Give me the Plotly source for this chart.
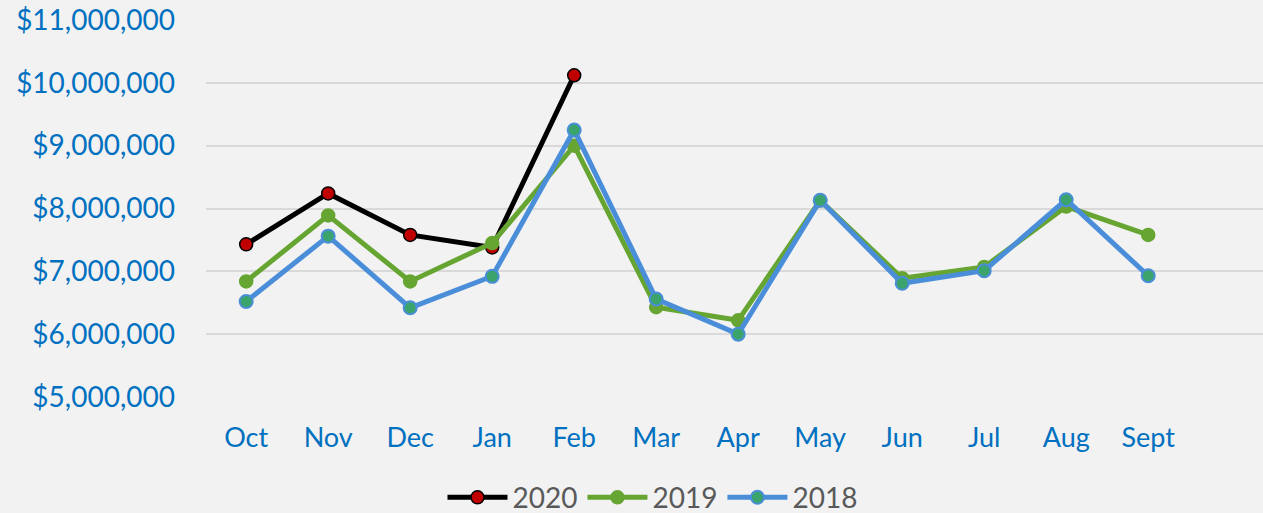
import plotly.graph_objects as go

months = ["Oct", "Nov", "Dec", "Jan", "Feb", "Mar", "Apr", "May", "Jun", "Jul", "Aug", "Sept"]
sales_2020 = [7430000, 8240000, 7580000, 7380000, 10120000]
sales_2019 = [6840000, 7890000, 6840000, 7450000, 9000000, 6430000, 6220000, 8130000, 6890000, 7070000, 8030000, 7580000]
sales_2018 = [6520000, 7560000, 6420000, 6920000, 9250000, 6560000, 6000000, 8130000, 6810000, 7010000, 8140000, 6930000]

fig = go.Figure()

fig.add_trace(go.Scatter(
    x=months[:len(sales_2020)], y=sales_2020, name="2020", mode="lines+markers",
    line=dict(color="#000000", width=5),
    marker=dict(size=13, color="#C00000", line=dict(color="#000000", width=1.5)),
))
fig.add_trace(go.Scatter(
    x=months, y=sales_2019, name="2019", mode="lines+markers",
    line=dict(color="#66A532", width=5),
    marker=dict(size=13, color="#66A532", line=dict(color="#66A532", width=1.5)),
))
fig.add_trace(go.Scatter(
    x=months, y=sales_2018, name="2018", mode="lines+markers",
    line=dict(color="#4A8EDA", width=5),
    marker=dict(size=13, color="#3AA46C", line=dict(color="#4A8EDA", width=2)),
))

fig.update_layout(
    width=1263, height=513,
    paper_bgcolor="#F2F2F2", plot_bgcolor="#F2F2F2",
    margin=dict(l=206, r=0, t=20, b=116, autoexpand=False),
    font=dict(family="Lato, Open Sans, sans-serif"),
    showlegend=True,
    legend=dict(orientation="h", x=0.4224, xanchor="center",
                yref="container", y=0.03, yanchor="middle",
                font=dict(size=28, color="#595959"), itemwidth=60, bgcolor="rgba(0,0,0,0)"),
    xaxis=dict(type="category", categoryarray=months, range=[-0.49, 12.4],
               showgrid=False, zeroline=False, showline=False, automargin=False,
               tickfont=dict(size=27, color="#0070C0"), ticks="", ticklabelstandoff=22),
    yaxis=dict(range=[5000000, 11000000], dtick=1000000, tickformat="$,.0f",
               showgrid=True, gridcolor="#D9D9D9", gridwidth=2, zeroline=False, showline=False,
               automargin=False,
               tickfont=dict(size=28, color="#0070C0"), ticks="", ticklabelstandoff=30),
)

# drop the browser's default body margin so the figure sits flush in the window
fig.write_html("out.html", config={"displayModeBar": False},
               post_script="document.body.style.margin='0';")
